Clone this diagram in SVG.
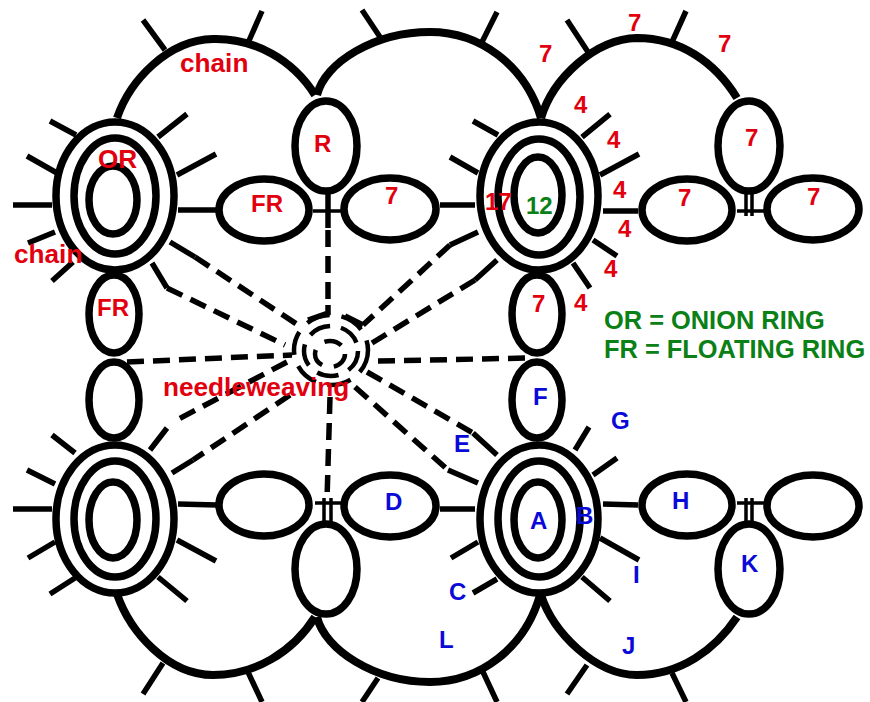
<svg xmlns="http://www.w3.org/2000/svg" width="870" height="702" viewBox="0 0 870 702">
<style>
.c{fill:none;stroke:#000;stroke-width:5.5}
.v{fill:none;stroke:#000;stroke-width:3.5}
.a{fill:none;stroke:#000;stroke-width:8}
.d{fill:none;stroke:#000;stroke-width:5.5;stroke-dasharray:17 9}
.r1{fill:none;stroke:#000;stroke-width:4.5;stroke-dasharray:24 12}
.r2{fill:none;stroke:#000;stroke-width:4.5;stroke-dasharray:22 11}
.r3{fill:none;stroke:#000;stroke-width:4.5;stroke-dasharray:18 12}
.o{fill:#fff;stroke:#000;stroke-width:7.5}
.n{fill:#fff;stroke:#000;stroke-width:7.5}
text{font-family:"Liberation Sans",Arial,sans-serif;font-weight:bold;font-size:24px}
.l{font-size:26.2px}
.m{font-size:25.4px}
.t-r{fill:#e2000f}
.t-g{fill:#0a8016}
.t-b{fill:#0a0ad8}
</style>
<rect width="870" height="702" fill="#fff"/>
<g id="connectors">
<path class="a" d="M117 118C130 80 168 40 213 39C255 38 293 60 315 95"/>
<path class="a" d="M317 95C325 62 375 32 430 32C480 32 525 65 541 118"/>
<path class="a" d="M541 118C553 78 595 39 637 38C680 38 715 62 737 98"/>
<path class="a" d="M117 594C130 632 168 675 213 675C255 675 293 652 315 617"/>
<path class="a" d="M317 617C325 650 375 682 430 682C480 682 525 648 540 595"/>
<path class="a" d="M541 595C553 632 595 675 637 675C680 675 715 650 737 617"/>
<path class="c" d="M165 50L143 20M248 43L262 11M380 37L362 10M482 42L497 12M588 52L567 20M672 42L686 11"/>
<path class="c" d="M163 663L143 694M248 672L262 702M378 678L362 702M483 672L497 702M587 665L567 694M672 673L686 702"/>
<path class="c" d="M76 135L50 121M57 173L27 156M52 205L13 205M55 232L28 243M73 262L52 281M158 137L187 114M177 175L216 154M178 210L217 210M170 242L195 257M152 263L167 288"/>
<path class="c" d="M498 135L473 121M478 173L450 157M475 205L440 205M478 232L450 245M497 260L475 280M582 137L610 114M600 175L639 154M603 211L638 211M593 240L617 256M573 263L590 288"/>
<path class="c" d="M75 453L52 435M55 484L27 470M52 509L13 509M55 542L28 558M75 578L50 594M177 540L216 561M158 577L187 601M178 504L217 505M167 428L150 450M193 460L172 473"/>
<path class="c" d="M478 542L451 558M497 579L473 593M575 450L589 427M593 475L617 458M603 504L638 505M600 538L639 560M582 577L610 601M475 509L440 509M473 433L497 455M448 470L478 483"/>
<path class="v" d="M313 211L342 211M315 503L342 503M737 211L765 211M737 503L765 503"/>
<path class="c" d="M328 192L328 228"/>
<path class="v" d="M324 498L324 522M331 498L331 522M746 192L746 216M752 192L752 216M746 498L746 522M752 498L752 522"/>
<path class="d" d="M195 257L298 325M167 288L285 345M328 230L328 305M450 245L363 325M475 280L372 343M127 362L292 355M378 361L530 358M287 362L173 422M290 395L193 460M330 397L327 500M367 372L473 433M355 387L448 470"/>
<path class="c" d="M328 305L328 313L308 320M363 325L345 316"/>
</g>
<g id="center-ring">
<ellipse class="r1" cx="331" cy="350" rx="37" ry="35"/>
<ellipse class="r2" cx="331" cy="351" rx="27" ry="25"/>
<ellipse class="r3" cx="330" cy="354" rx="15" ry="13"/>
</g>
<g id="rosette-tl">
<ellipse class="o" cx="115" cy="196" rx="59" ry="74"/>
<ellipse class="o" cx="115" cy="196" rx="41" ry="58"/>
<ellipse class="o" cx="113" cy="200" rx="24" ry="34"/>
</g>
<g id="rosette-tr">
<ellipse class="o" cx="539" cy="196" rx="59" ry="74"/>
<ellipse class="o" cx="539" cy="197" rx="41" ry="58"/>
<ellipse class="o" cx="538" cy="195" rx="24" ry="38"/>
</g>
<g id="rosette-bl">
<ellipse class="o" cx="115" cy="519" rx="59" ry="74"/>
<ellipse class="o" cx="115" cy="519" rx="41" ry="58"/>
<ellipse class="o" cx="113" cy="520" rx="24" ry="38"/>
</g>
<g id="rosette-br">
<ellipse class="o" cx="539" cy="519" rx="59" ry="74"/>
<ellipse class="o" cx="539" cy="519" rx="41" ry="58"/>
<ellipse class="o" cx="538" cy="520" rx="24" ry="38"/>
</g>
<g id="ring-left-1"><ellipse class="n" cx="114" cy="314" rx="25" ry="39"/></g>
<g id="ring-left-2"><ellipse class="n" cx="114" cy="400" rx="25" ry="38"/></g>
<g id="ring-right-1"><ellipse class="n" cx="537" cy="314" rx="25" ry="39"/></g>
<g id="ring-right-2"><ellipse class="n" cx="537" cy="400" rx="25" ry="38"/></g>
<g id="fr-top"><ellipse class="n" cx="264" cy="210" rx="45" ry="31"/></g>
<g id="seven-top"><ellipse class="n" cx="390" cy="209" rx="46" ry="31"/></g>
<g id="r-top"><ellipse class="n" cx="326" cy="146" rx="31" ry="45"/></g>
<g id="seven-right-l"><ellipse class="n" cx="687" cy="210" rx="45" ry="31"/></g>
<g id="seven-right-r"><ellipse class="n" cx="813" cy="209" rx="46" ry="31"/></g>
<g id="seven-right-t"><ellipse class="n" cx="749" cy="146" rx="31" ry="45"/></g>
<g id="blank-bottom-l"><ellipse class="n" cx="264" cy="505" rx="45" ry="31"/></g>
<g id="d-bottom"><ellipse class="n" cx="390" cy="506" rx="46" ry="31"/></g>
<g id="blank-bottom-b"><ellipse class="n" cx="326" cy="569" rx="31" ry="45"/></g>
<g id="h-right"><ellipse class="n" cx="687" cy="505" rx="45" ry="31"/></g>
<g id="blank-right"><ellipse class="n" cx="813" cy="506" rx="46" ry="31"/></g>
<g id="k-right"><ellipse class="n" cx="749" cy="569" rx="31" ry="45"/></g>
<g id="labels">
<text class="t-r l" x="180" y="72">chain</text>
<text class="t-r l" x="98" y="168">OR</text>
<text class="t-r l" x="14" y="263">chain</text>
<text class="t-r" x="314" y="152">R</text>
<text class="t-r" x="251" y="212">FR</text>
<text class="t-r" x="385" y="204">7</text>
<text class="t-r" x="97" y="316">FR</text>
<text class="t-r l" x="163" y="396">needleweaving</text>
<text class="t-r" x="539" y="62">7</text>
<text class="t-r" x="628" y="31">7</text>
<text class="t-r" x="718" y="52">7</text>
<text class="t-r" x="574" y="113">4</text>
<text class="t-r" x="607" y="148">4</text>
<text class="t-r" x="613" y="198">4</text>
<text class="t-r" x="618" y="237">4</text>
<text class="t-r" x="604" y="277">4</text>
<text class="t-r" x="574" y="311">4</text>
<text class="t-r" x="485" y="210">17</text>
<text class="t-g" x="526" y="214">12</text>
<text class="t-r" x="745" y="146">7</text>
<text class="t-r" x="678" y="206">7</text>
<text class="t-r" x="807" y="205">7</text>
<text class="t-r" x="532" y="312">7</text>
<text class="t-g m" x="604" y="329">OR = ONION RING</text>
<text class="t-g m" x="604" y="358">FR = FLOATING RING</text>
<text class="t-b" x="533" y="405">F</text>
<text class="t-b" x="611" y="429">G</text>
<text class="t-b" x="454" y="452">E</text>
<text class="t-b" x="385" y="510">D</text>
<text class="t-b" x="672" y="509">H</text>
<text class="t-b" x="530" y="529">A</text>
<text class="t-b" x="576" y="524">B</text>
<text class="t-b" x="633" y="583">I</text>
<text class="t-b" x="741" y="572">K</text>
<text class="t-b" x="449" y="600">C</text>
<text class="t-b" x="439" y="648">L</text>
<text class="t-b" x="622" y="654">J</text>
</g>
</svg>
